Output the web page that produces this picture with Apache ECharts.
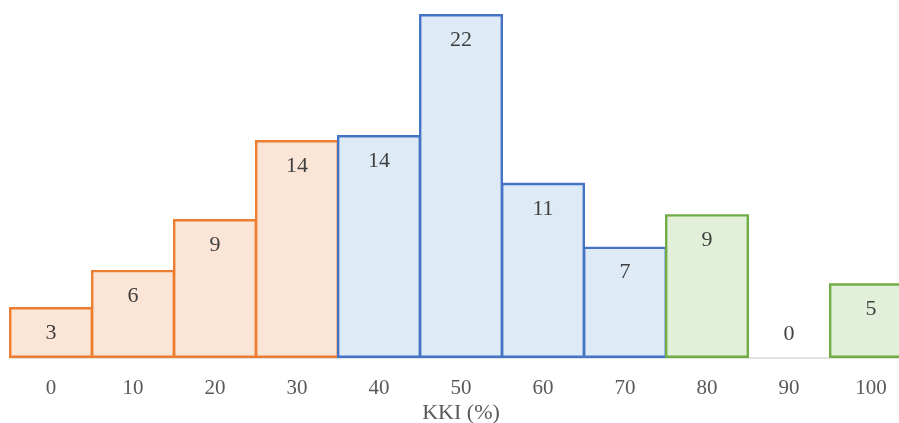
<!DOCTYPE html>
<html>
<head>
<meta charset="utf-8">
<script src="https://cdn.jsdelivr.net/npm/echarts@6/dist/echarts.min.js"></script>
<style>html,body{margin:0;padding:0;background:#fff}#c{width:899px;height:423px}</style>
</head>
<body>
<div id="c"></div>
<script>
const categories = ['0','10','20','30','40','50','60','70','80','90','100'];
const values = [3.26, 5.63, 8.89, 13.94, 14.26, 22, 11.2, 7.12, 9.2, 0, 4.78];
const labels = ['3','6','9','14','14','22','11','7','9','0','5'];
const groups = ['orange','orange','orange','orange','blue','blue','blue','blue','green','green','green'];
const axisName = 'KKI (%)';

const palette = {
  orange: {fill: '#FBE5D6', border: '#ED7D31'},
  blue: {fill: '#DEEBF7', border: '#4472C4'},
  green: {fill: '#E2F0D9', border: '#70AD47'}
};

const data = values.map((v, i) => ({
  value: v,
  itemStyle: {
    color: palette[groups[i]].fill,
    borderColor: palette[groups[i]].border,
    borderWidth: v === 0 ? 0 : 2.4
  },
  label: v === 0 ? {position: 'top', distance: 13} : {position: 'insideTop', distance: 15}
}));

const chart = echarts.init(document.getElementById('c'));
chart.setOption({
  animation: false,
  grid: {left: 10, top: 14, right: -13, bottom: 65, containLabel: false, outerBoundsMode: 'none'},
  xAxis: {
    type: 'category',
    data: categories,
    axisLine: {show: true, lineStyle: {color: '#D9D9D9', width: 1.5}},
    axisTick: {show: false},
    axisLabel: {fontFamily: 'Liberation Serif', fontSize: 21, color: '#595959', margin: 20},
    name: axisName,
    nameLocation: 'middle',
    nameGap: 44,
    nameMoveOverlap: false,
    nameTextStyle: {fontFamily: 'Liberation Serif', fontSize: 22, color: '#595959'}
  },
  yAxis: {
    type: 'value', min: 0, max: 22,
    show: false, splitLine: {show: false}
  },
  series: [{
    type: 'bar',
    data: data,
    barWidth: 84,
    barGap: 0,
    label: {
      show: true,
      fontFamily: 'Liberation Serif',
      fontSize: 22,
      color: '#404040',
      formatter: p => labels[p.dataIndex]
    }
  }]
});
</script>
</body>
</html>
